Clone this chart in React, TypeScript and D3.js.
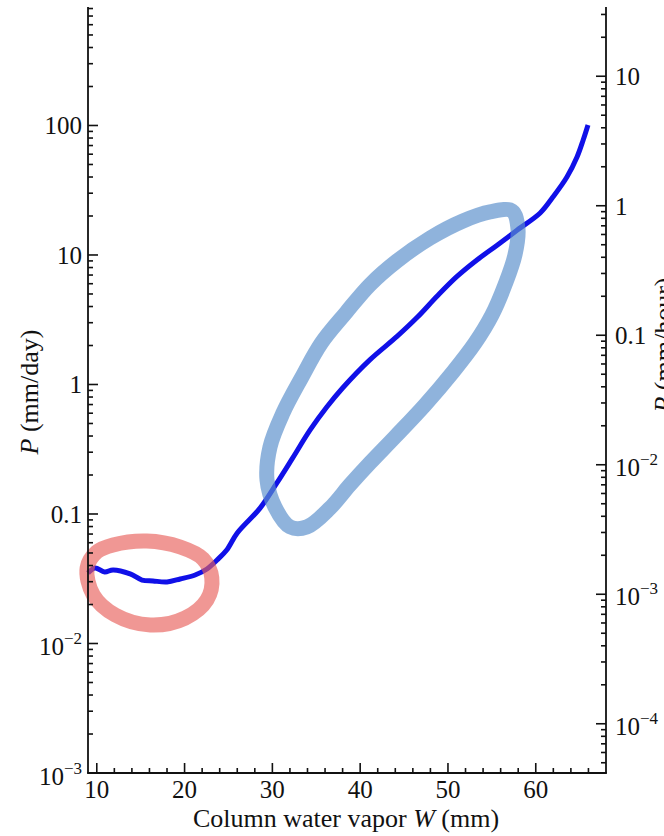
import React from "react";
import * as d3 from "d3";

// Blue curve: precipitation P (mm/day) vs column water vapor W (mm)
const curveW = [9.0, 9.8, 10.9, 11.85, 13.8, 15.15, 16.4, 18.0, 19.5, 21.2, 22.55, 23.7, 24.8, 26.0, 28.6, 30.5, 32.3, 34.3, 36.2, 38.0, 41.1, 44.2, 46.5, 48.75, 51.0, 53.3, 55.6, 57.9, 60.5, 61.95, 63.55, 64.7, 65.4, 65.95];
const curveP = [0.035, 0.0383, 0.0356, 0.037, 0.0345, 0.0309, 0.0304, 0.0299, 0.0315, 0.0338, 0.0376, 0.0441, 0.0527, 0.0713, 0.111, 0.173, 0.27, 0.446, 0.67, 0.94, 1.55, 2.35, 3.3, 4.8, 6.8, 9.15, 11.9, 15.6, 21.1, 28.0, 40.0, 57.1, 77.3, 101];

// Red annotation loop (dry regime)
const redLoopW = [8.9, 10.0, 11.85, 15.7, 19.5, 22.1, 23.1, 22.55, 20.05, 16.1, 12.1, 9.6];
const redLoopP = [0.0383, 0.0509, 0.0577, 0.0619, 0.0556, 0.045, 0.0321, 0.0217, 0.0157, 0.0139, 0.0166, 0.0237];

// Blue annotation loop (moist regime)
const blueLoopW = [57.29, 57.97, 57.63, 56.49, 55.01, 53.08, 50.57, 47.38, 43.97, 41.12, 38.84, 36.56, 33.94, 32.01, 30.3, 29.39, 29.73, 31.21, 33.3, 35.6, 38.4, 41.12, 44.19, 47.95, 51.71, 54.79];
const blueLoopP = [21.9, 16.1, 10.0, 5.87, 3.44, 2.09, 1.25, 0.695, 0.394, 0.248, 0.168, 0.111, 0.0795, 0.0795, 0.113, 0.183, 0.329, 0.603, 1.12, 2.1, 3.6, 5.9, 8.99, 13.5, 18.3, 21.5];

// Axis ticks
const xMajorTicks = [10, 20, 30, 40, 50, 60];
const xMinorTicks = [12, 14, 16, 18, 22, 24, 26, 28, 32, 34, 36, 38, 42, 44, 46, 48, 52, 54, 56, 58, 62, 64, 66];
const leftTickValues = [1e-3, 1e-2, 0.1, 1, 10, 100];
const leftTickBase = ["10", "10", "0.1", "1", "10", "100"];
const leftTickExp = ["−3", "−2", "", "", "", ""];
const rightTickValues = [1e-4, 1e-3, 1e-2, 0.1, 1, 10];
const rightTickBase = ["10", "10", "10", "0.1", "1", "10"];
const rightTickExp = ["−4", "−3", "−2", "", "", ""];

const HOURS_PER_DAY = 24;
const P_MIN = 1e-3;
const P_MAX = 822;

function logMinors(lo: number, hi: number): number[] {
  const out: number[] = [];
  for (let e = Math.floor(Math.log10(lo)) - 1; e <= Math.ceil(Math.log10(hi)); e++) {
    const d = Math.pow(10, e);
    for (let k = 2; k <= 9; k++) {
      const v = k * d;
      if (v >= lo * 0.9999 && v <= hi * 1.0001) out.push(v);
    }
  }
  return out;
}

export default function App() {
  const left = 88, right = 606, top = 7, bottom = 773;
  const x = d3.scaleLinear().domain([9, 68]).range([left, right]);
  const y = d3.scaleLog().domain([P_MIN, P_MAX]).range([bottom, top]);
  const yR = d3.scaleLog().domain([P_MIN / HOURS_PER_DAY, P_MAX / HOURS_PER_DAY]).range([bottom, top]);

  const curvePts = curveW.map((w, i) => [w, curveP[i]] as [number, number]);
  const redPts = redLoopW.map((w, i) => [w, redLoopP[i]] as [number, number]);
  const bluePts = blueLoopW.map((w, i) => [w, blueLoopP[i]] as [number, number]);

  const line = d3.line<[number, number]>().x(d => x(d[0])).y(d => y(d[1])).curve(d3.curveCatmullRom.alpha(0.5));
  const loop = d3.line<[number, number]>().x(d => x(d[0])).y(d => y(d[1])).curve(d3.curveCatmullRomClosed.alpha(0.5));

  const leftMinors = logMinors(P_MIN, P_MAX);
  const rightMinors = logMinors(P_MIN / HOURS_PER_DAY, P_MAX / HOURS_PER_DAY);

  const font = "'Liberation Serif', 'Times New Roman', serif";
  const tickFs = 25;
  const supFs = 17;
  const axisW = 1.8;
  const majorLen = 10, minorLen = 5;

  return (
    <svg width={664} height={836} style={{ position: "absolute", left: 0, top: 0, background: "#fff" }} fontFamily={font}>
      <rect x={0} y={0} width={664} height={836} fill="#ffffff" />

      {/* blue curve */}
      <path d={line(curvePts) || ""} fill="none" stroke="#1010e8" strokeWidth={5} />

      {/* annotation loops */}
      <path d={loop(redPts) || ""} fill="none" stroke="#e8605a" strokeOpacity={0.65} strokeWidth={15} strokeLinejoin="round" />
      <path d={loop(bluePts) || ""} fill="none" stroke="#5a8fcc" strokeOpacity={0.68} strokeWidth={15} strokeLinejoin="round" />

      {/* axes lines */}
      <g stroke="#111" strokeWidth={axisW} fill="none">
        <line x1={left} y1={top} x2={left} y2={bottom} />
        <line x1={right} y1={top} x2={right} y2={bottom} />
        <line x1={left - axisW / 2} y1={bottom} x2={right + axisW / 2} y2={bottom} />
      </g>

      {/* x ticks */}
      <g stroke="#111" strokeWidth={1.6}>
        {xMajorTicks.map(t => <line key={"xM" + t} x1={x(t)} x2={x(t)} y1={bottom} y2={bottom - majorLen} />)}
        {xMinorTicks.map(t => <line key={"xm" + t} x1={x(t)} x2={x(t)} y1={bottom} y2={bottom - minorLen} />)}
      </g>
      <g fontSize={tickFs} textAnchor="middle" fill="#111">
        {xMajorTicks.map(t => <text key={"xl" + t} x={x(t)} y={798}>{t}</text>)}
      </g>

      {/* left y ticks */}
      <g stroke="#111" strokeWidth={1.6}>
        {leftTickValues.map(t => <line key={"lM" + t} x1={left} x2={left + majorLen} y1={y(t)} y2={y(t)} />)}
        {leftMinors.map(t => <line key={"lm" + t} x1={left} x2={left + minorLen} y1={y(t)} y2={y(t)} />)}
      </g>
      <g fontSize={tickFs} textAnchor="end" fill="#111">
        {leftTickValues.map((t, i) => (
          <text key={"ll" + t} x={82} y={y(t) + (leftTickExp[i] ? 12 : 9)}>
            {leftTickBase[i]}
            {leftTickExp[i] ? <tspan dy={-11} fontSize={supFs}>{leftTickExp[i]}</tspan> : null}
          </text>
        ))}
      </g>

      {/* right y ticks */}
      <g stroke="#111" strokeWidth={1.6}>
        {rightTickValues.map(t => <line key={"rM" + t} x1={right} x2={right - majorLen} y1={yR(t)} y2={yR(t)} />)}
        {rightMinors.map(t => <line key={"rm" + t} x1={right} x2={right - minorLen} y1={yR(t)} y2={yR(t)} />)}
      </g>
      <g fontSize={tickFs} textAnchor="start" fill="#111">
        {rightTickValues.map((t, i) => (
          <text key={"rl" + t} x={615} y={yR(t) + (rightTickExp[i] ? 11 : 9)}>
            {rightTickBase[i]}
            {rightTickExp[i] ? <tspan dy={-11} fontSize={supFs}>{rightTickExp[i]}</tspan> : null}
          </text>
        ))}
      </g>

      {/* axis titles */}
      <text x={346} y={827} fontSize={26} textAnchor="middle" fill="#111">
        Column water vapor <tspan fontStyle="italic">W</tspan> (mm)
      </text>
      <text transform="translate(38,392) rotate(-90)" fontSize={26} textAnchor="middle" fill="#111">
        <tspan fontStyle="italic">P</tspan> (mm/day)
      </text>
      <text transform="translate(672,345) rotate(-90)" fontSize={26} textAnchor="middle" fill="#111">
        <tspan fontStyle="italic">P</tspan> (mm/hour)
      </text>
    </svg>
  );
}
